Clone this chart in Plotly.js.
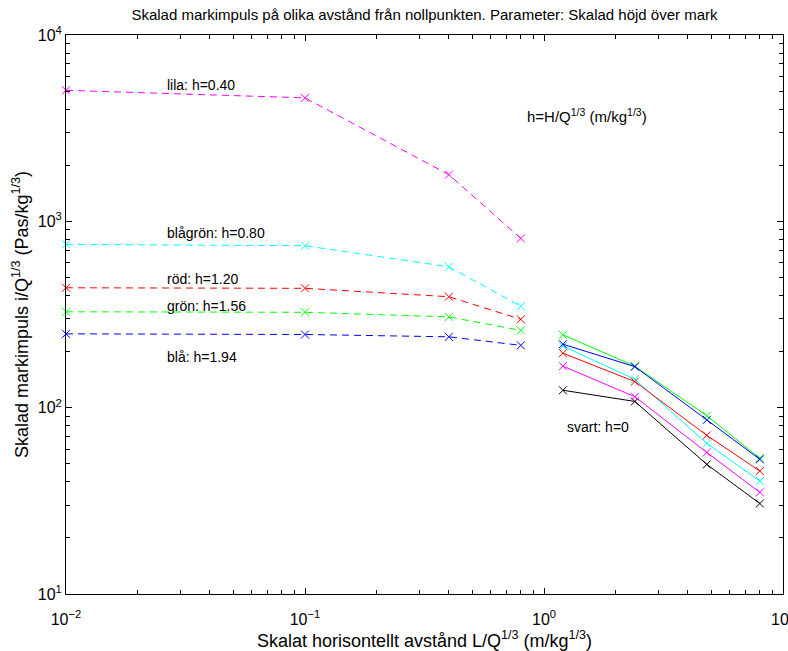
<!DOCTYPE html>
<html><head><meta charset="utf-8">
<script src="https://cdn.plot.ly/plotly-3.0.1.min.js"></script>
<style>body{margin:0;background:#fff}#chart{width:788px;height:651px}</style>
</head><body><div id="chart"></div>
<script>
// Near field (dashed) distances and far field (solid) distances
const xNear = [0.01, 0.1, 0.4, 0.8];
const xFar = [1.2, 2.4, 4.8, 8.0];
// Series values (Pas/kg^1/3)
const lilaNear = [5050, 4600, 1780, 810];
const blagronNear = [752, 740, 570, 350];
const rodNear = [440, 437, 394, 298];
const gronNear = [327, 325, 307, 260];
const blaNear = [249, 247, 240, 216];
const gronFar = [246, 167, 90.5, 53.5];
const blaFar = [219, 166, 86, 52.8];
const blagronFar = [214, 142, 64.3, 40.4];
const rodFar = [196, 138, 71, 45.7];
const lilaFar = [167, 114.5, 57.5, 35.1];
const svartFar = [124, 108, 49.6, 30.6];
const xTicks = [0.01, 0.1, 1, 10];
const xTickText = ['10<sup>−2</sup>', '10<sup>−1</sup>', '10<sup>0</sup>', '10<sup>1</sup>'];
const yTicks = [10, 100, 1000, 10000];
const yTickText = ['10<sup>1</sup>', '10<sup>2</sup>', '10<sup>3</sup>', '10<sup>4</sup>'];

const colors = {lila:'#ff00ff', blagron:'#00ffff', rod:'#ff0000', gron:'#00ff00', bla:'#0000ff', svart:'#000000'};
function tr(x, y, c, dashed){
  return {x:x, y:y, type:'scatter', mode:'lines+markers',
    line:{color:c, width:1, dash: dashed ? '7px,5px' : 'solid'},
    marker:{symbol:'x-thin-open', size:8, line:{color:c, width:1}, color:c},
    showlegend:false, hoverinfo:'skip', cliponaxis:false};
}
const data = [
  tr(xNear, lilaNear, colors.lila, true),
  tr(xNear, blagronNear, colors.blagron, true),
  tr(xNear, rodNear, colors.rod, true),
  tr(xNear, gronNear, colors.gron, true),
  tr(xNear, blaNear, colors.bla, true),
  tr(xFar, svartFar, colors.svart, false),
  tr(xFar, lilaFar, colors.lila, false),
  tr(xFar, blagronFar, colors.blagron, false),
  tr(xFar, rodFar, colors.rod, false),
  tr(xFar, gronFar, colors.gron, false),
  tr(xFar, blaFar, colors.bla, false)
];
const fnt = {family:'Liberation Sans, Arial, sans-serif', color:'#000'};
function ann(x, y, t, s){
  return {x:Math.log10(x), y:Math.log10(y), text:t, showarrow:false, xanchor:'left', yanchor:'middle',
    font:Object.assign({size:s || 14}, fnt)};
}
const minorCfg = {ticks:'inside', ticklen:4, tickcolor:'#000', showgrid:false, dtick:'D1'};
const layout = {
  width:788, height:651,
  margin:{l:66, r:5, t:35, b:57},
  paper_bgcolor:'#fff', plot_bgcolor:'#fff',
  font:fnt,
  title:{text:'Skalad markimpuls på olika avstånd från nollpunkten. Parameter: Skalad höjd över mark',
    font:Object.assign({size:15}, fnt), x:0.5, xref:'paper', xanchor:'center', y:0.977, yanchor:'middle'},
  xaxis:{type:'log', range:[-2, 1], tickvals:xTicks, ticktext:xTickText,
    ticks:'inside', ticklen:6, tickcolor:'#000', mirror:'ticks', showline:true, linecolor:'#000', linewidth:1,
    showgrid:false, zeroline:false, tickfont:Object.assign({size:16}, fnt), ticklabelstandoff:11,
    ticklabeloverflow:'allow',
    minor:minorCfg,
    title:{text:'Skalat horisontellt avstånd L/Q<sup>1/3</sup> (m/kg<sup>1/3</sup>)', font:Object.assign({size:18}, fnt), standoff:0}},
  yaxis:{type:'log', range:[1, 4], tickvals:yTicks, ticktext:yTickText,
    ticks:'inside', ticklen:6, tickcolor:'#000', mirror:'ticks', showline:true, linecolor:'#000', linewidth:1,
    showgrid:false, zeroline:false, tickfont:Object.assign({size:16}, fnt),
    minor:minorCfg,
    title:{text:'Skalad markimpuls i/Q<sup>1/3</sup> (Pas/kg<sup>1/3</sup>)', font:Object.assign({size:18}, fnt), standoff:4}},
  annotations:[
    ann(0.0259, 5400, 'lila: h=0.40'),
    ann(0.0259, 870, 'blågrön: h=0.80'),
    ann(0.0259, 490, 'röd: h=1.20'),
    ann(0.0259, 350, 'grön: h=1.56'),
    ann(0.0259, 188, 'blå: h=1.94'),
    ann(1.23, 79, 'svart: h=0'),
    ann(0.833, 3720, 'h=H/Q<sup>1/3</sup> (m/kg<sup>1/3</sup>)', 15)
  ]
};
Plotly.newPlot('chart', data, layout, {displayModeBar:false, staticPlot:true});
</script></body></html>
